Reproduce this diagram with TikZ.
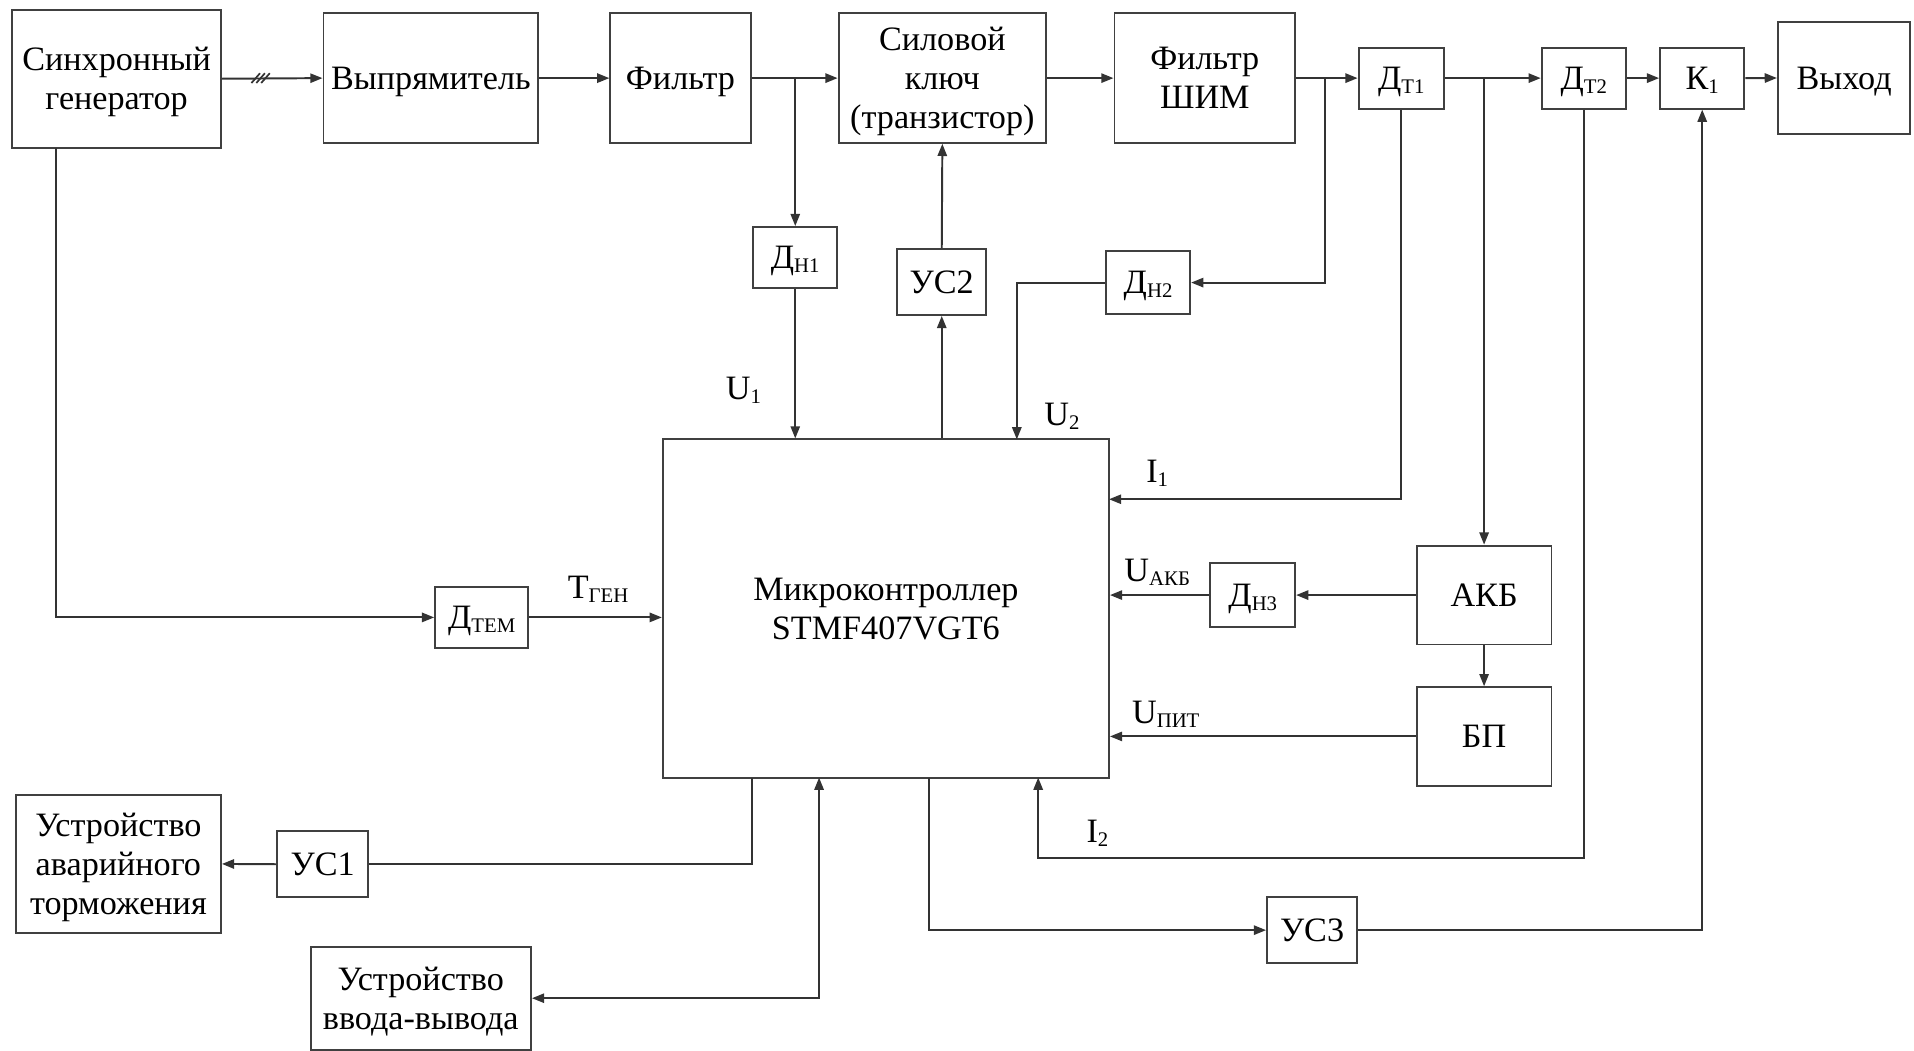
\documentclass[tikz,border=0pt]{standalone}
\usepackage{fontspec}
\setmainfont{Liberation Serif}
\usetikzlibrary{arrows.meta,calc}
\newcommand\subs[1]{\raisebox{-1.6pt}{\fontsize{8.5}{8.5}\selectfont #1}}
\newcommand\fs{\fontsize{14}{16}\selectfont}
\tikzset{
  blk/.style={draw=black!75, line width=0.8pt, inner sep=0pt, align=center, font=\fs, text depth=0pt},
  ln/.style={draw=black!80, line width=0.8pt},
  arr/.style={ln, -{Triangle[length=5pt,width=3.8pt]}},
  arrboth/.style={ln, {Triangle[length=5pt,width=3.8pt]}-{Triangle[length=5pt,width=3.8pt]}},
  lbl/.style={inner sep=0pt, font=\fs}
}
\begin{document}
\begin{tikzpicture}[x=0.5pt,y=-0.5pt]
\useasboundingbox (0,0) rectangle (1568,861);
% top row
\node[blk, minimum width=85.5pt, minimum height=56.5pt] (gen) at (95.5,64.5) {Синхронный\\генератор};
\node[blk, minimum width=88pt, minimum height=53pt] (rect) at (353,64) {Выпрямитель};
\node[blk, minimum width=57.5pt, minimum height=53pt] (filt) at (557.5,64) {Фильтр};
\node[blk, minimum width=85pt, minimum height=53pt] (key) at (772,64) {Силовой\\ключ\\(транзистор)};
\node[blk, minimum width=74pt, minimum height=53pt] (pwm) at (987,64) {Фильтр\\ШИМ};
\node[blk, minimum width=35pt, minimum height=25pt] (dt1) at (1148,64) {Д\subs{Т1}};
\node[blk, minimum width=34.5pt, minimum height=25pt] (dt2) at (1297.5,64) {Д\subs{Т2}};
\node[blk, minimum width=34.5pt, minimum height=25pt] (k1) at (1394.5,64) {К\subs{1}};
\node[blk, minimum width=54.25pt, minimum height=46pt] (out) at (1510.75,63.9) {Выход};
% middle
\node[blk, minimum width=34.5pt, minimum height=25pt] (dn1) at (651.5,211) {Д\subs{Н1}};
\node[blk, minimum width=36.5pt, minimum height=27pt] (us2) at (771.5,231) {УС2};
\node[blk, minimum width=34.5pt, minimum height=25.5pt] (dn2) at (940.5,231.5) {Д\subs{Н2}};
\node[blk, minimum width=182.75pt, minimum height=138.5pt] (mc) at (725.75,498.5) {Микроконтроллер\\STMF407VGT6};
\node[blk, minimum width=38.1pt, minimum height=25.2pt] (dtem) at (394.6,505.8) {Д\subs{ТЕМ}};
\node[blk, minimum width=34.7pt, minimum height=26pt] (dn3) at (1026.3,487.5) {Д\subs{Н3}};
\node[blk, minimum width=55.2pt, minimum height=40.5pt] (akb) at (1215.8,487.5) {АКБ};
\node[blk, minimum width=55.2pt, minimum height=40.3pt] (bp) at (1215.8,603.3) {БП};
% bottom
\node[blk, minimum width=84pt, minimum height=56.75pt] (brake) at (97,707.75) {Устройство\\аварийного\\торможения};
\node[blk, minimum width=37.3pt, minimum height=27pt] (us1) at (264.3,708) {УС1};
\node[blk, minimum width=90.3pt, minimum height=42.25pt] (io) at (344.7,817.75) {Устройство\\ввода-вывода};
\node[blk, minimum width=36.85pt, minimum height=27pt] (us3) at (1074.85,762) {УС3};
% coordinates
\coordinate (b1) at (651.5,64);
\coordinate (b2) at (1085.5,64);
\coordinate (b3) at (1215.8,64);
\coordinate (mcU2) at (833,360);
\coordinate (mcI1) at (908.5,409);
\coordinate (mcI2) at (850.5,637);
\coordinate (i2c) at (850.5,702.6);
\coordinate (g1) at (45.7,121);
\coordinate (m1) at (615.7,637);
\coordinate (m2) at (671,637);
\coordinate (m3) at (761,637);
% top chain
\draw[arr] (gen.east) -- (rect.west);
\foreach \i in {0,4,8} \draw[ln, line width=0.7pt] (206+\i,68) -- (213+\i,60);
\draw[arr] (rect.east) -- (filt.west);
\draw[arr] (filt.east) -- (key.west);
\draw[arr] (key.east) -- (pwm.west);
\draw[arr] (pwm.east) -- (dt1.west);
\draw[arr] (dt1.east) -- (dt2.west);
\draw[arr] (dt2.east) -- (k1.west);
\draw[arr] (k1.east) -- (out.west);
% branches
\draw[arr] (b1) -- (dn1.north);
\draw[arr] (dn1.south) -- (dn1.south |- mc.north);
\draw[arr] (us2.south |- mc.north) -- (us2.south);
\draw[arr] (us2.north) -- (key.south);
\draw[arr] (b2) |- (dn2.east);
\draw[arr] (dn2.west) -| (mcU2);
\draw[arr] (dt1.south) |- (mcI1);
\draw[arr] (b3) -- (akb.north);
\draw[arr] (akb.west) -- (dn3.east);
\draw[arr] (dn3.west) -- (dn3.west -| mc.east);
\draw[arr] (akb.south) -- (bp.north);
\draw[arr] (bp.west) -- (bp.west -| mc.east);
\draw[arr] (dt2.south) |- (i2c) -- (mcI2);
\draw[arr] (g1) |- (dtem.west);
\draw[arr] (dtem.east) -- (dtem.east -| mc.west);
\draw[ln] (m1) |- (us1.east);
\draw[arr] (us1.west) -- (brake.east);
\draw[arrboth] (io.east) -| (m2);
\draw[arr] (m3) |- (us3.west);
\draw[arr] (us3.east) -| (k1.south);
% labels
\node[lbl] (lU1) at (609,320) {U\subs{1}};
\node[lbl] (lU2) at (870,341) {U\subs{2}};
\node[lbl] (lI1) at (948,388) {I\subs{1}};
\node[lbl] (lUakb) at (948,469) {U\subs{АКБ}};
\node[lbl] (lTgen) at (490,483) {Т\subs{ГЕН}};
\node[lbl] (lUpit) at (955,585) {U\subs{ПИТ}};
\node[lbl] (lI2) at (899,683) {I\subs{2}};
\end{tikzpicture}
\end{document}
